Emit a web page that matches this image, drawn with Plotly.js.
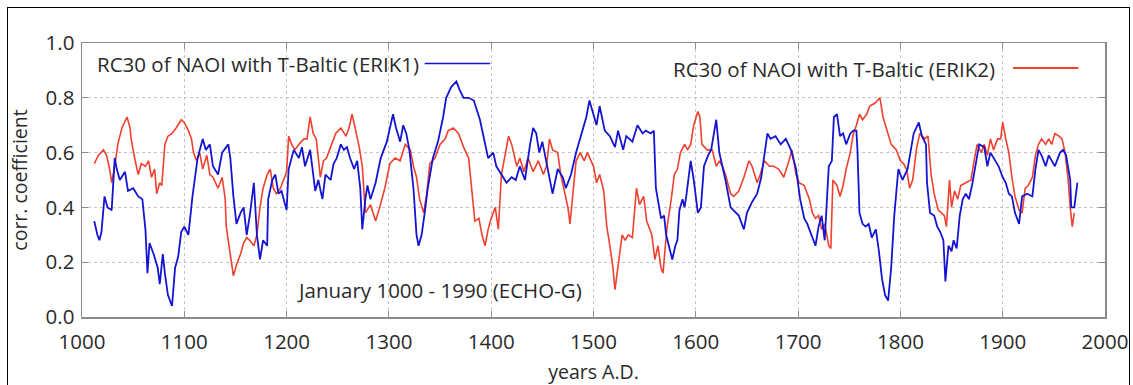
<!DOCTYPE html>
<html><head><meta charset="utf-8">
<script src="https://cdn.plot.ly/plotly-3.0.1.min.js"></script>
<style>
html,body{margin:0;padding:0;background:#fff;}
#frame{position:absolute;left:7px;top:7px;width:1123px;height:420px;border:1.5px solid #000;box-sizing:border-box;pointer-events:none;}
#chart{width:1133px;height:385px;}
</style></head>
<body>
<div id="chart"></div>
<div id="frame"></div>
<script>
// ERIK1 (blue) running correlation
const yearsErik1 = [1012,1015,1017,1019,1022,1025,1029,1032,1034,1037,1042,1045,1050,1055,1059,1062,1064,1066,1070,1074,1076,1079,1081,1084,1088,1091,1094,1097,1100,1104,1108,1113,1118,1121,1125,1128,1133,1137,1143,1145,1148,1151,1155,1158,1161,1164,1168,1171,1174,1177,1181,1182,1186,1189,1192,1195,1200,1202,1207,1212,1215,1218,1223,1228,1231,1235,1238,1243,1246,1249,1253,1256,1259,1262,1266,1269,1272,1274,1277,1279,1282,1287,1292,1298,1304,1307,1311,1314,1317,1320,1324,1327,1329,1332,1335,1338,1343,1348,1353,1356,1361,1366,1369,1373,1378,1383,1389,1394,1397,1402,1405,1410,1415,1420,1424,1428,1433,1438,1441,1444,1447,1450,1453,1457,1460,1465,1470,1473,1478,1483,1488,1493,1496,1500,1503,1506,1511,1516,1521,1524,1529,1532,1538,1543,1548,1551,1556,1559,1561,1566,1569,1571,1574,1577,1580,1582,1584,1587,1589,1591,1595,1598,1602,1605,1608,1612,1615,1618,1620,1623,1626,1629,1634,1639,1642,1647,1650,1655,1660,1664,1667,1670,1673,1678,1683,1688,1693,1698,1702,1706,1709,1712,1717,1720,1723,1726,1728,1730,1733,1735,1738,1741,1744,1747,1751,1754,1757,1758,1760,1763,1766,1769,1772,1776,1779,1782,1785,1788,1791,1794,1798,1802,1807,1810,1813,1818,1821,1825,1826,1829,1833,1836,1839,1842,1844,1847,1850,1852,1855,1858,1861,1864,1867,1870,1874,1877,1882,1885,1888,1893,1896,1900,1903,1906,1909,1912,1916,1919,1924,1929,1932,1935,1938,1942,1945,1948,1951,1956,1959,1962,1966,1967,1970,1973];
const corrErik1 = [0.35,0.30,0.28,0.31,0.44,0.40,0.39,0.58,0.54,0.50,0.53,0.46,0.47,0.44,0.43,0.32,0.16,0.27,0.23,0.18,0.12,0.23,0.16,0.08,0.04,0.18,0.22,0.31,0.33,0.30,0.44,0.58,0.65,0.61,0.63,0.55,0.52,0.60,0.63,0.58,0.44,0.34,0.38,0.40,0.30,0.37,0.49,0.30,0.21,0.28,0.26,0.43,0.50,0.52,0.45,0.46,0.39,0.54,0.61,0.58,0.62,0.55,0.61,0.46,0.50,0.43,0.52,0.50,0.56,0.58,0.63,0.61,0.62,0.58,0.54,0.57,0.47,0.32,0.43,0.48,0.43,0.49,0.58,0.64,0.74,0.69,0.64,0.70,0.67,0.61,0.47,0.30,0.26,0.30,0.38,0.47,0.58,0.64,0.73,0.80,0.84,0.86,0.83,0.80,0.80,0.79,0.72,0.64,0.58,0.60,0.55,0.52,0.49,0.51,0.50,0.55,0.50,0.63,0.69,0.67,0.60,0.64,0.58,0.51,0.45,0.54,0.51,0.47,0.52,0.60,0.67,0.73,0.79,0.74,0.70,0.77,0.68,0.66,0.62,0.68,0.61,0.66,0.64,0.70,0.67,0.68,0.67,0.68,0.47,0.36,0.37,0.30,0.25,0.21,0.26,0.28,0.39,0.43,0.40,0.45,0.57,0.50,0.38,0.40,0.55,0.59,0.61,0.68,0.72,0.60,0.55,0.50,0.40,0.38,0.37,0.32,0.38,0.42,0.45,0.51,0.60,0.67,0.65,0.66,0.63,0.65,0.61,0.54,0.43,0.36,0.34,0.31,0.26,0.33,0.37,0.28,0.42,0.55,0.57,0.73,0.74,0.66,0.67,0.63,0.67,0.68,0.68,0.61,0.38,0.34,0.33,0.34,0.29,0.32,0.24,0.14,0.08,0.06,0.18,0.37,0.54,0.50,0.54,0.61,0.67,0.71,0.66,0.63,0.49,0.38,0.37,0.33,0.31,0.28,0.13,0.26,0.24,0.28,0.25,0.37,0.43,0.45,0.43,0.48,0.57,0.63,0.62,0.55,0.60,0.57,0.55,0.51,0.49,0.45,0.44,0.38,0.34,0.44,0.45,0.44,0.54,0.61,0.59,0.55,0.59,0.57,0.55,0.60,0.61,0.59,0.50,0.40,0.40,0.49];

// ERIK2 (red) running correlation
const yearsErik2 = [1012,1016,1021,1024,1027,1029,1032,1035,1039,1044,1047,1048,1052,1055,1058,1062,1065,1068,1071,1073,1076,1078,1081,1084,1088,1092,1097,1100,1104,1107,1109,1112,1115,1118,1122,1125,1128,1133,1137,1140,1141,1145,1148,1151,1155,1158,1161,1164,1168,1171,1174,1177,1181,1184,1187,1190,1194,1197,1200,1202,1205,1208,1212,1217,1220,1223,1226,1229,1233,1236,1239,1243,1248,1253,1258,1261,1264,1267,1271,1274,1277,1282,1287,1291,1296,1301,1306,1311,1316,1321,1324,1327,1330,1334,1337,1340,1345,1350,1355,1358,1363,1368,1373,1378,1381,1384,1388,1391,1394,1397,1400,1404,1407,1410,1414,1417,1420,1425,1428,1432,1436,1441,1446,1451,1454,1457,1460,1465,1468,1472,1475,1477,1480,1483,1487,1491,1494,1500,1503,1506,1510,1513,1516,1519,1521,1524,1528,1531,1534,1538,1542,1545,1549,1552,1557,1560,1563,1566,1568,1570,1572,1576,1579,1582,1585,1589,1592,1595,1598,1602,1604,1606,1611,1616,1620,1623,1626,1629,1634,1637,1642,1647,1652,1655,1660,1663,1667,1672,1676,1681,1686,1691,1694,1698,1701,1706,1711,1714,1717,1720,1723,1726,1730,1732,1734,1738,1741,1744,1747,1751,1754,1757,1760,1763,1767,1770,1775,1780,1783,1787,1791,1796,1800,1803,1806,1809,1812,1816,1819,1824,1827,1830,1833,1837,1840,1843,1845,1848,1850,1853,1856,1859,1864,1869,1872,1875,1879,1882,1885,1888,1891,1895,1898,1900,1903,1906,1909,1912,1916,1919,1922,1925,1929,1932,1935,1938,1942,1945,1948,1951,1955,1958,1961,1964,1966,1968,1970];
const corrErik2 = [0.56,0.59,0.61,0.59,0.54,0.49,0.55,0.63,0.69,0.73,0.69,0.65,0.57,0.52,0.56,0.55,0.57,0.51,0.54,0.45,0.49,0.48,0.63,0.66,0.67,0.69,0.72,0.71,0.68,0.65,0.60,0.57,0.60,0.54,0.59,0.52,0.51,0.47,0.51,0.43,0.33,0.23,0.15,0.19,0.23,0.27,0.29,0.28,0.26,0.30,0.40,0.47,0.52,0.54,0.47,0.45,0.47,0.50,0.53,0.66,0.63,0.61,0.63,0.65,0.65,0.73,0.67,0.65,0.51,0.57,0.58,0.62,0.67,0.69,0.66,0.69,0.74,0.69,0.62,0.55,0.38,0.41,0.35,0.40,0.47,0.56,0.58,0.57,0.63,0.61,0.55,0.51,0.43,0.38,0.45,0.56,0.58,0.63,0.65,0.68,0.69,0.67,0.62,0.58,0.47,0.35,0.36,0.30,0.26,0.32,0.36,0.40,0.32,0.52,0.60,0.66,0.63,0.55,0.58,0.53,0.58,0.53,0.57,0.52,0.55,0.65,0.61,0.60,0.52,0.45,0.40,0.34,0.47,0.57,0.60,0.57,0.60,0.55,0.49,0.52,0.46,0.33,0.26,0.18,0.10,0.18,0.30,0.28,0.30,0.29,0.47,0.41,0.44,0.35,0.30,0.21,0.26,0.18,0.16,0.25,0.33,0.43,0.52,0.54,0.60,0.63,0.61,0.63,0.70,0.75,0.73,0.63,0.61,0.61,0.55,0.57,0.55,0.52,0.45,0.44,0.46,0.51,0.57,0.55,0.49,0.52,0.57,0.55,0.55,0.54,0.51,0.57,0.61,0.52,0.49,0.48,0.43,0.38,0.36,0.37,0.32,0.34,0.26,0.25,0.50,0.48,0.44,0.48,0.54,0.60,0.67,0.70,0.74,0.72,0.74,0.77,0.78,0.80,0.73,0.68,0.63,0.61,0.57,0.56,0.54,0.47,0.50,0.62,0.67,0.65,0.66,0.52,0.45,0.39,0.38,0.37,0.33,0.50,0.40,0.46,0.43,0.48,0.49,0.50,0.57,0.63,0.60,0.63,0.59,0.65,0.61,0.65,0.65,0.71,0.65,0.60,0.51,0.44,0.39,0.38,0.47,0.48,0.51,0.59,0.63,0.65,0.63,0.65,0.63,0.67,0.66,0.65,0.60,0.50,0.40,0.33,0.38];

const xTickVals = [1000,1100,1200,1300,1400,1500,1600,1700,1800,1900,2000];
const yTickVals = [0.0,0.2,0.4,0.6,0.8,1.0];

const labelErik1 = 'RC30 of NAOI with T-Baltic (ERIK1)';
const labelErik2 = 'RC30 of NAOI with T-Baltic (ERIK2)';
const noteText = 'January 1000 - 1990 (ECHO-G)';

const BLUE = '#1414d2';
const RED = '#f0402e';
const FONT = 'Open Sans, Noto Sans, sans-serif';
const TXT = '#2a2a2a';

const traces = [
  {x: yearsErik2, y: corrErik2, type: 'scatter', mode: 'lines', name: labelErik2,
   line: {color: RED, width: 1.6}, showlegend: false},
  {x: yearsErik1, y: corrErik1, type: 'scatter', mode: 'lines', name: labelErik1,
   line: {color: BLUE, width: 1.8}, showlegend: false}
];

const axisCommon = {
  showline: true, linecolor: '#8c8c8c', linewidth: 1.5, mirror: 'ticks',
  ticks: 'inside', ticklen: 6, tickcolor: '#8c8c8c', tickwidth: 1,
  showgrid: true, gridcolor: '#c4c4c4', griddash: 'dot', gridwidth: 1,
  zeroline: false, tickfont: {family: FONT, size: 20.5, color: TXT}
};

const layout = {
  width: 1133, height: 385,
  margin: {l: 82, r: 28, t: 43, b: 68},
  paper_bgcolor: '#fff', plot_bgcolor: '#fff',
  xaxis: Object.assign({}, axisCommon, {
    range: [1000, 2000], tickvals: xTickVals, ticktext: xTickVals.map(String),
    ticklabelstandoff: 6,
    title: {text: 'years A.D.', font: {family: FONT, size: 19.5, color: TXT}, standoff: 14}
  }),
  yaxis: Object.assign({}, axisCommon, {
    range: [0, 1], tickvals: yTickVals, ticktext: yTickVals.map(v => v.toFixed(1)),
    ticklabelstandoff: 2,
    title: {text: 'corr. coefficient', font: {family: FONT, size: 19.5, color: TXT}, standoff: 12}
  }),
  annotations: [
    {text: labelErik1, xref: 'paper', yref: 'paper', x: 0.0127, y: 0.925, xanchor: 'left', yanchor: 'middle',
     showarrow: false, font: {family: FONT, size: 20.5, color: TXT}},
    {text: labelErik2, xref: 'paper', yref: 'paper', x: 0.894, y: 0.905, xanchor: 'right', yanchor: 'middle',
     showarrow: false, font: {family: FONT, size: 20.5, color: TXT}},
    {text: noteText, xref: 'paper', yref: 'paper', x: 0.208, y: 0.0985, xanchor: 'left', yanchor: 'middle',
     showarrow: false, font: {family: FONT, size: 20.5, color: TXT}}
  ],
  shapes: [
    {type: 'line', xref: 'paper', yref: 'paper', x0: 0.335, x1: 0.399, y0: 0.925, y1: 0.925,
     line: {color: BLUE, width: 1.5}},
    {type: 'line', xref: 'paper', yref: 'paper', x0: 0.910, x1: 0.974, y0: 0.909, y1: 0.909,
     line: {color: RED, width: 2}}
  ]
};

Plotly.newPlot('chart', traces, layout, {staticPlot: true, displayModeBar: false});
</script>
</body></html>
